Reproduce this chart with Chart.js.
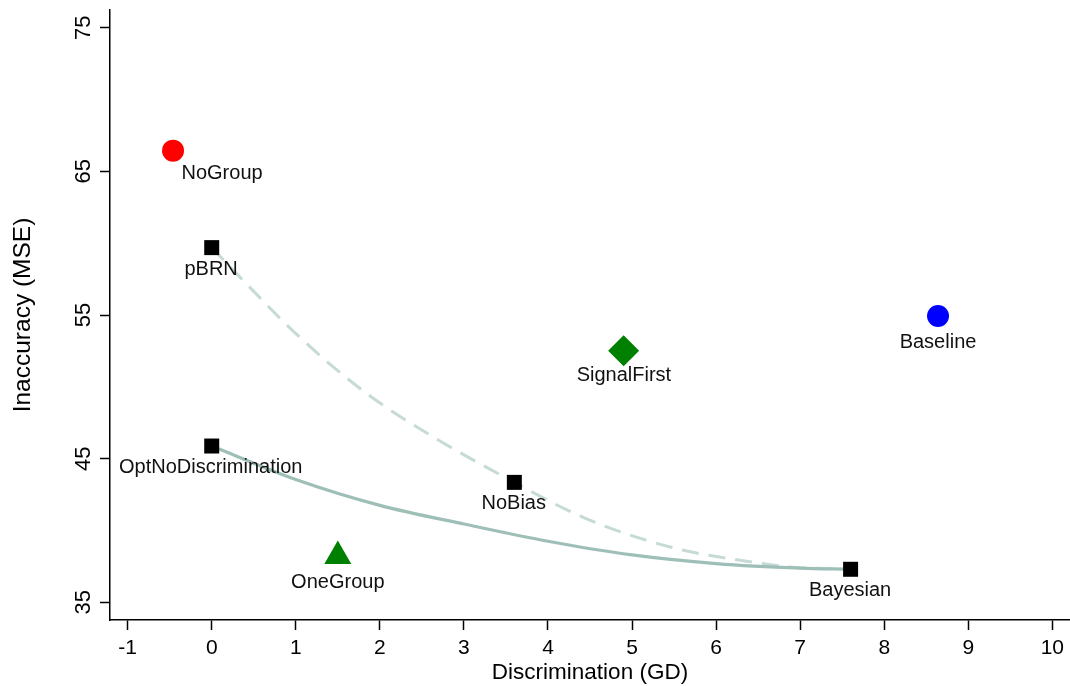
<!DOCTYPE html>
<html>
<head>
<meta charset="utf-8">
<script src="https://cdn.jsdelivr.net/npm/chart.js@4"></script>
<style>
  html, body { margin: 0; padding: 0; background: #fff; }
  canvas { display: block; }
</style>
</head>
<body>
<canvas id="chart" width="1070" height="686"></canvas>
<script>
// methods shown as single points
const methods = ['NoGroup', 'pBRN', 'OptNoDiscrimination', 'NoBias', 'Bayesian', 'OneGroup', 'SignalFirst', 'Baseline'];
const discrimination = [-0.46, 0, 0, 3.6, 7.6, 1.5, 4.9, 8.64];
const inaccuracy = [66.44, 59.69, 45.88, 43.35, 37.3, 38.21, 52.51, 54.93];

// the two frontier curves
const dashedGD = [0, 0.33, 1.04, 1.84, 2.63, 3.6, 4.22, 4.77, 5.6, 6.4, 6.91, 7.6];
const dashedMSE = [59.69, 57.67, 53.49, 49.55, 46.53, 43.35, 41.45, 40.1, 38.64, 37.83, 37.45, 37.3];
const solidGD = [0, 1, 2, 3, 4, 5, 6, 7, 7.6];
const solidMSE = [45.88, 43.55, 41.75, 40.45, 39.25, 38.3, 37.7, 37.38, 37.3];

const xTicks = [-1, 0, 1, 2, 3, 4, 5, 6, 7, 8, 9, 10];
const yTicks = [35, 45, 55, 65, 75];

const FONT = "'Liberation Sans', Arial, Helvetica, sans-serif";

// marker look + where its label sits (px from the point)
const markerStyle = [
  { shape: 'circle', color: '#ff0000', r: 11, dx: 49, dy: 28.6 },
  { shape: 'rect', color: '#000000', r: 10.6, dx: -0.6, dy: 27.3 },
  { shape: 'rect', color: '#000000', r: 10.6, dx: -1, dy: 27.3 },
  { shape: 'rect', color: '#000000', r: 10.6, dx: -0.6, dy: 27 },
  { shape: 'rect', color: '#000000', r: 10.6, dx: -0.5, dy: 26.7 },
  { shape: 'triangle', color: '#008000', r: 15.6, dx: 0, dy: 32 },
  { shape: 'rectRot', color: '#008000', r: 15.5, dx: 0.3, dy: 30.3 },
  { shape: 'circle', color: '#0000ff', r: 11, dx: 0, dy: 31.7 },
];

const toXY = (xs, ys) => xs.map((v, i) => ({ x: v, y: ys[i] }));

const noPad = s => { s.paddingLeft = s.paddingRight = s.paddingTop = s.paddingBottom = 0; };

const pointLabels = {
  id: 'pointLabels',
  afterDatasetsDraw(chart) {
    const { ctx, scales: { x, y } } = chart;
    ctx.save();
    ctx.font = '20px ' + FONT;
    ctx.fillStyle = '#111';
    ctx.textAlign = 'center';
    ctx.textBaseline = 'alphabetic';
    methods.forEach((name, i) => {
      const st = markerStyle[i];
      ctx.fillText(name, x.getPixelForValue(discrimination[i]) + st.dx, y.getPixelForValue(inaccuracy[i]) + st.dy);
    });
    ctx.restore();
  }
};

// y tick labels stand on their side, so they are drawn here
const yTickLabels = {
  id: 'yTickLabels',
  afterDraw(chart) {
    const { ctx, scales: { y } } = chart;
    ctx.save();
    ctx.font = '22px ' + FONT;
    ctx.fillStyle = '#000';
    ctx.textAlign = 'center';
    ctx.textBaseline = 'alphabetic';
    y.ticks.forEach(t => {
      const py = y.getPixelForValue(t.value);
      ctx.setTransform(1, 0, 0, 1, y.right - 20, py);
      ctx.rotate(-Math.PI / 2);
      ctx.fillText(String(t.value), 0, 0);
    });
    ctx.restore();
  }
};

const markerSets = methods.map((name, i) => ({
  type: 'scatter',
  label: name,
  data: [{ x: discrimination[i], y: inaccuracy[i] }],
  pointStyle: markerStyle[i].shape,
  pointRadius: markerStyle[i].r,
  pointHoverRadius: markerStyle[i].r,
  backgroundColor: markerStyle[i].color,
  borderWidth: 0,
  order: 0
}));

new Chart(document.getElementById('chart'), {
  type: 'scatter',
  data: {
    datasets: [
      ...markerSets,
      {
        type: 'line',
        label: 'frontier (dashed)',
        data: toXY(dashedGD, dashedMSE),
        borderColor: '#c6dbd5',
        borderWidth: 3,
        borderDash: [17, 10],
        cubicInterpolationMode: 'monotone',
        pointRadius: 0,
        fill: false,
        order: 2
      },
      {
        type: 'line',
        label: 'frontier',
        data: toXY(solidGD, solidMSE),
        borderColor: '#9ebfb7',
        borderWidth: 3.2,
        cubicInterpolationMode: 'monotone',
        pointRadius: 0,
        fill: false,
        order: 1
      }
    ]
  },
  options: {
    responsive: false,
    animation: false,
    devicePixelRatio: 1,
    layout: { autoPadding: false, padding: { top: 10, left: 0, right: 0, bottom: 0 } },
    plugins: {
      legend: { display: false },
      tooltip: { enabled: false }
    },
    scales: {
      x: {
        type: 'linear',
        min: -1.21,
        max: 10.21,
        afterBuildTicks: s => { s.ticks = xTicks.map(v => ({ value: v })); },
        afterFit: s => { s.height = 66; noPad(s); },
        border: { display: true, color: '#000', width: 1.5 },
        grid: { display: true, drawOnChartArea: false, drawTicks: true, tickLength: 10, tickColor: '#000', tickWidth: 1.5 },
        ticks: { color: '#000', font: { family: FONT, size: 21 }, padding: 6, maxRotation: 0, autoSkip: false },
        title: { display: true, text: 'Discrimination (GD)', color: '#000', font: { family: FONT, size: 22.5 }, padding: { top: 0, bottom: 0 } }
      },
      y: {
        type: 'linear',
        min: 33.77,
        max: 76.23,
        afterBuildTicks: s => { s.ticks = yTicks.map(v => ({ value: v })); },
        afterFit: s => { s.width = 110; noPad(s); },
        border: { display: true, color: '#000', width: 1.5 },
        grid: { display: true, drawOnChartArea: false, drawTicks: true, tickLength: 10, tickColor: '#000', tickWidth: 1.5 },
        ticks: { display: false },
        title: { display: true, text: 'Inaccuracy (MSE)', color: '#000', font: { family: FONT, size: 24.5 }, padding: { top: 9, bottom: 0 } }
      }
    }
  },
  plugins: [pointLabels, yTickLabels]
});
</script>
</body>
</html>
